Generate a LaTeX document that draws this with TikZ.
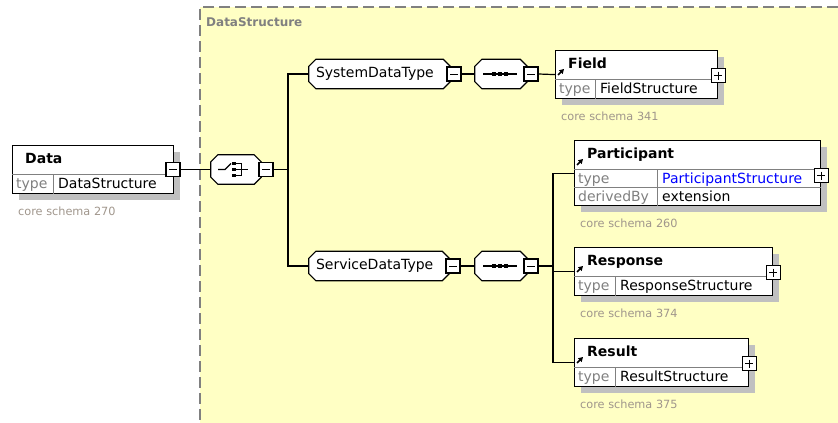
\documentclass[tikz,border=0pt]{standalone}
\usepackage{fontspec}
\setmainfont{DejaVu Sans}
\usetikzlibrary{shadows,arrows.meta}

\definecolor{xsdyellow}{RGB}{255,255,196}
\definecolor{xsdgray}{RGB}{128,128,128}
\definecolor{schemagray}{RGB}{160,150,140}
\definecolor{shadowgray}{RGB}{192,192,192}

% octagon outline of a compositor node
\newcommand\octapath[1]{([xshift=7pt]#1.north west) -- ([xshift=-7pt]#1.north east)
  -- ([yshift=-7pt]#1.north east) -- ([yshift=7pt]#1.south east)
  -- ([xshift=-7pt]#1.south east) -- ([xshift=7pt]#1.south west)
  -- ([yshift=7pt]#1.south west) -- ([yshift=-7pt]#1.north west) -- cycle}

\tikzset{
  boxshadow/.style={drop shadow={shadow xshift=6pt, shadow yshift=-6pt, fill=shadowgray, opacity=1}},
  elem/.style={draw, fill=white, line width=1.2pt, inner sep=0pt, anchor=north west, boxshadow},
  octa/.style={minimum height=29pt, inner sep=0pt},
  tog/.style={draw, fill=white, line width=1.3pt, minimum size=14pt, inner sep=0pt},
  minus/.style={tog, path picture={\draw[line width=1pt]
    ([xshift=3pt]path picture bounding box.west) -- ([xshift=-3pt]path picture bounding box.east);}},
  plus/.style={tog, path picture={\draw[line width=1pt]
    ([xshift=3pt]path picture bounding box.west) -- ([xshift=-3pt]path picture bounding box.east)
    ([yshift=-3pt]path picture bounding box.north) -- ([yshift=3pt]path picture bounding box.south);}},
  txt/.style={inner sep=0pt, anchor=base west, font=\fontsize{14}{16}\selectfont},
  title/.style={txt, font=\fontsize{14}{16}\selectfont\bfseries},
  schema/.style={txt, font=\fontsize{11.3}{13}\selectfont, text=schemagray},
  cell/.style={xsdgray, line width=1pt},
  conn/.style={line width=1.2pt},
  refarrow/.style={-{Triangle[length=4.5pt,width=5pt]}, line width=1.6pt}
}

\begin{document}
\begin{tikzpicture}[x=1pt, y=-1pt]
\useasboundingbox (0,0) rectangle (838,423);
% complex type area
\fill[xsdyellow] (200,7) rectangle (838,423);
\draw[xsdgray, line width=1.5pt, dash pattern=on 11pt off 5pt] (838,7) -- (200,7) -- (200,423);
\node[txt, font=\fontsize{12}{14}\selectfont\bfseries, text=xsdgray] (dslabel) at (206,27) {DataStructure};

% elements with one type row
\foreach \n/\x/\y/\w/\t/\d/\ty/\cs in {data/12/145/161/Data/41/DataStructure/270,
    field/555/50/162/Field/40/FieldStructure/341,
    response/574/247/198/Response/41/ResponseStructure/374,
    result/574/338/174/Result/41/ResultStructure/375}{
  \node[elem, minimum width=\w pt, minimum height=48pt] (\n) at (\x,\y) {};
  \draw[cell] ([yshift=-29pt]\n.north west) -- ([yshift=-29pt]\n.north east);
  \draw[cell] ([xshift=\d pt,yshift=-29pt]\n.north west) -- ([xshift=\d pt]\n.south west);
  \node[title] (\n-title) at ([xshift=13pt,yshift=-18.5pt]\n.north west) {\t};
  \node[txt, text=xsdgray, inner xsep=4pt] (\n-key) at ([yshift=-43pt]\n.north west) {type};
  \node[txt, inner xsep=5pt] (\n-type) at ([xshift=\d pt,yshift=-43pt]\n.north west) {\ty};
  \node[schema] (\n-schema) at ([xshift=6pt,yshift=-21.5pt]\n.south west) {core schema \cs};
}

% participant has a second row
\node[elem, minimum width=246pt, minimum height=65pt] (participant) at (574,140) {};
\draw[cell] ([yshift=-29pt]participant.north west) -- ([yshift=-29pt]participant.north east);
\draw[cell] ([yshift=-47pt]participant.north west) -- ([yshift=-47pt]participant.north east);
\draw[cell] ([xshift=83pt,yshift=-29pt]participant.north west) -- ([xshift=83pt]participant.south west);
\node[title] (participant-title) at ([xshift=13pt,yshift=-18.5pt]participant.north west) {Participant};
\node[txt, text=xsdgray, inner xsep=4pt] (participant-key) at ([yshift=-43pt]participant.north west) {type};
\node[txt, text=blue, inner xsep=5pt] (participant-type) at ([xshift=83pt,yshift=-43pt]participant.north west) {ParticipantStructure};
\node[txt, text=xsdgray, inner xsep=4pt] (participant-key2) at ([yshift=-61.5pt]participant.north west) {derivedBy};
\node[txt, inner xsep=5pt] (participant-deriv) at ([xshift=83pt,yshift=-61.5pt]participant.north west) {extension};
\node[schema] (participant-schema) at ([xshift=6pt,yshift=-21.5pt]participant.south west) {core schema 260};

\foreach \n in {field,participant,response,result}
  \draw[refarrow] ([xshift=3pt,yshift=-25pt]\n.north west) -- ++(6,-6);

% compositors
\node[octa, minimum width=50pt] (choice) at (236,169.5) {};
\node[octa, minimum width=141pt] (sysdt) at (379.5,74) {};
\node[octa, minimum width=52pt] (seqa) at (501,74) {};
\node[octa, minimum width=140pt] (srvdt) at (379,266) {};
\node[octa, minimum width=52pt] (seqb) at (501,266) {};
\foreach \o in {choice,sysdt,seqa,srvdt,seqb} {
  \fill[shadowgray, shift={(6,6)}] \octapath{\o};
  \filldraw[fill=white, line width=1.2pt] \octapath{\o};
}
\node[txt, anchor=west, inner xsep=7pt] (sysdt-label) at (sysdt.west) {SystemDataType};
\node[txt, anchor=west, inner xsep=7pt] (srvdt-label) at (srvdt.west) {ServiceDataType};

% choice symbol
\draw[conn] ([xshift=-18pt]choice.center) -- ++(7,0) -- ++(6,-6);
\foreach \dy in {-6,0,6} {
  \fill ([xshift=-2pt]choice.center) ++(0,\dy) +(-1.8,-1.8) rectangle +(1.8,1.8);
  \draw[line width=1pt] (choice.center) ++(0,\dy) -- ++(5,0);
}
\draw[line width=1pt] ([xshift=5pt]choice.center) ++(0,-6.5) -- ++(0,13);
\draw[line width=1pt] ([xshift=5pt]choice.center) -- ++(7,0);

% sequence symbols
\foreach \s in {seqa,seqb} {
  \draw[conn] ([xshift=-18pt]\s.center) -- ++(34,0);
  \foreach \dx in {-7,-1,5}
    \fill (\s.center) ++(\dx,0) +(-2,-2) rectangle +(2,2);
}

% expand buttons
\node[minus] (dataminus) at (173,169.5) {};
\node[minus] (choiceminus) at (266,169.5) {};
\node[minus] (sysdtminus) at (454,74) {};
\node[minus] (seqaminus) at (531,74) {};
\node[minus] (srvdtminus) at (453,266) {};
\node[minus] (seqbminus) at (531,266) {};
\node[plus] (fieldplus) at ([yshift=-1pt]field.east) {};
\node[plus] (participantplus) at ([yshift=-2.5pt]participant.east) {};
\node[plus] (responseplus) at ([yshift=-1pt]response.east) {};
\node[plus] (resultplus) at ([yshift=-1pt]result.east) {};

% connectors
\coordinate (forka) at (288,169.5);
\coordinate (forkb) at (553,266);
\draw[conn] (dataminus.east) -- (choice.west);
\draw[conn] (choiceminus.east) -- (forka);
\draw[conn] (sysdt.west) -| (forka) |- (srvdt.west);
\draw[conn] (sysdtminus.east) -- (seqa.west);
\draw[conn] (seqaminus.east) -- (field.west);
\draw[conn] (srvdtminus.east) -- (seqb.west);
\draw[conn] (seqbminus.east) -- (forkb);
\draw[conn] (participant.west) -| (forkb) |- (result.west);
\draw[conn] (response.west) -- (response.west -| forkb);
\end{tikzpicture}
\end{document}
